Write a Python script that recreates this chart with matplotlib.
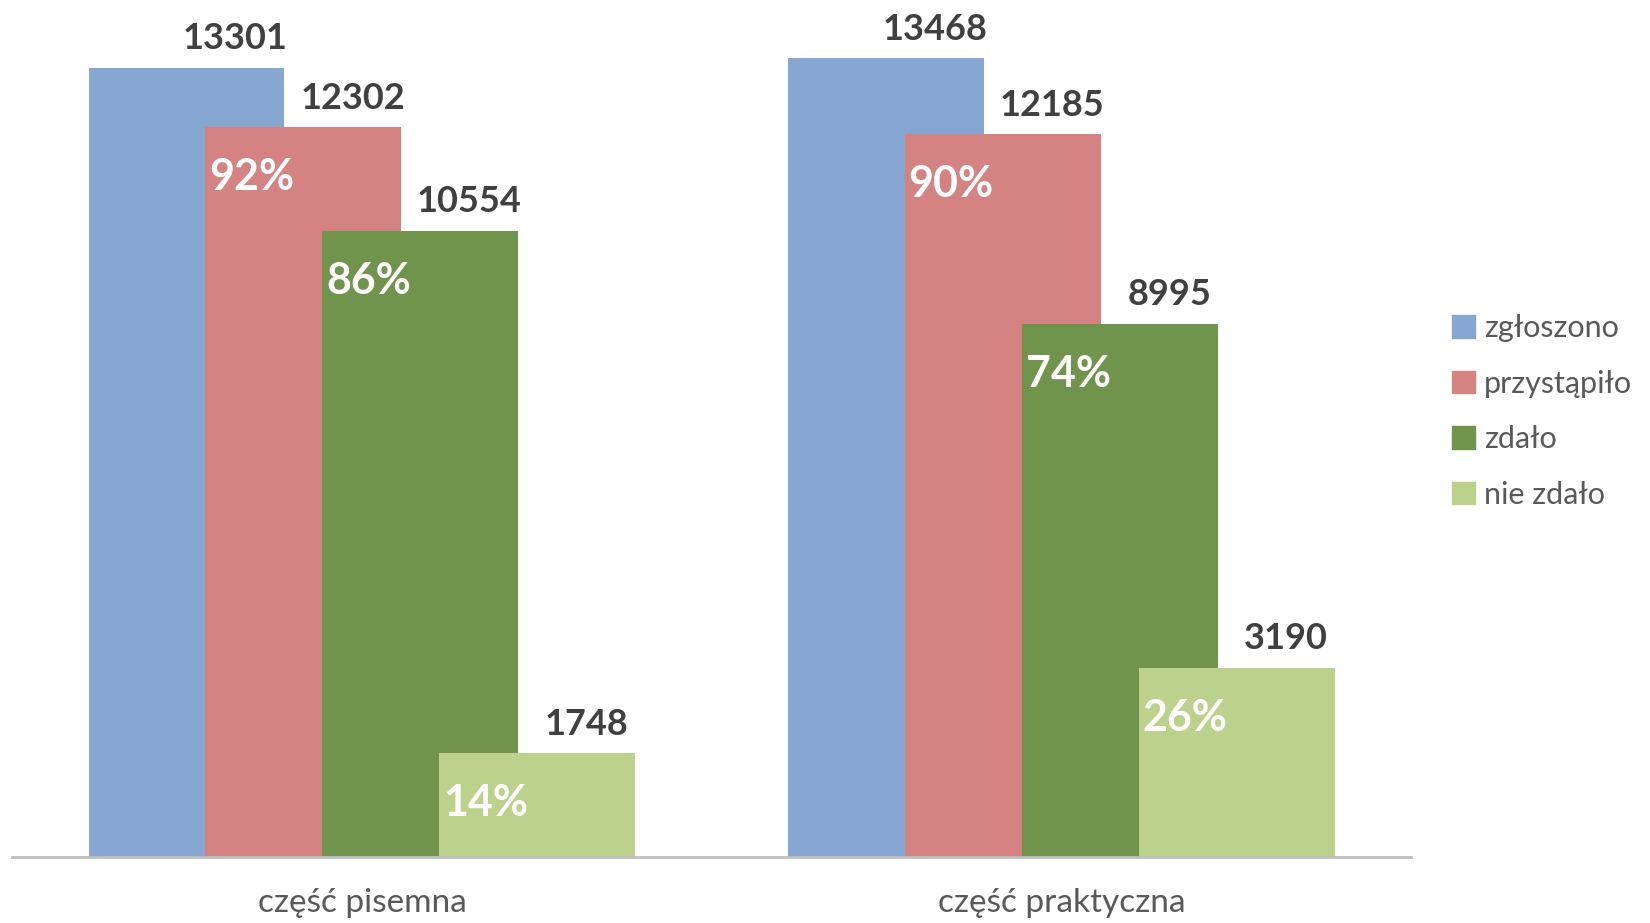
import numpy as np
import matplotlib
matplotlib.use("Agg")
import matplotlib.pyplot as plt
from matplotlib.patches import Patch

plt.rcParams['font.family'] = ['Lato', 'DejaVu Sans']

categories = ['część pisemna', 'część praktyczna']
series_names = ['zgłoszono', 'przystąpiło', 'zdało', 'nie zdało']
values = [
    [13301, 13468],   # zgłoszono
    [12302, 12185],   # przystąpiło
    [10554, 8995],    # zdało
    [1748, 3190],     # nie zdało
]
percents = [
    [None, None],
    ['92%', '90%'],
    ['86%', '74%'],
    ['14%', '26%'],
]
colors = ['#85A7D1', '#D48282', '#70944C', '#BCD28C']

fig = plt.figure(figsize=(16.5, 9.23), dpi=100)
ax = fig.add_axes([12 / 1650, 66 / 923, 1399 / 1650, 857 / 923])

bar_w = 1.0
step = 0.597
group_gap = 3.571
centers = 1.786 + group_gap * np.arange(len(categories))
first_left = centers - (step * (len(series_names) - 1) + bar_w) / 2

for i, name in enumerate(series_names):
    lefts = first_left + i * step
    ax.bar(lefts, values[i], width=bar_w, align='edge', color=colors[i],
           label=name, zorder=2 + i)
    for g in range(len(categories)):
        ax.annotate(str(values[i][g]), (lefts[g] + bar_w / 2 + 0.25, values[i][g]),
                    xytext=(0, 21), textcoords='offset points', ha='center', va='center',
                    fontsize=26, fontweight='bold', color='#404040', zorder=10)
        if percents[i][g]:
            ax.annotate(percents[i][g], (lefts[g] + 0.235, values[i][g]),
                        xytext=(0, -36), textcoords='offset points', ha='center', va='center',
                        fontsize=31, fontweight='bold', color='white', zorder=10)

ax.set_xlim(0, 7.14)
ax.set_ylim(0, 14450)
for side in ['top', 'right', 'left']:
    ax.spines[side].set_visible(False)
ax.spines['bottom'].set_color('#BFBFBF')
ax.spines['bottom'].set_linewidth(2)
ax.spines['bottom'].set_zorder(20)
ax.set_yticks([])
ax.set_xticks(centers)
ax.set_xticklabels(categories, fontsize=24, color='#595959')
ax.tick_params(axis='x', length=0, pad=22)

handles = [Patch(color=c) for c in colors]
fig.legend(handles, series_names, loc='upper left', bbox_to_anchor=(1440 / 1650, 1 - 302 / 923),
           frameon=False, fontsize=22, labelcolor='#595959', handlelength=0.75,
           handleheight=0.75, handletextpad=0.3, labelspacing=0.9, borderaxespad=0)

fig.savefig('out.png', dpi=100)
